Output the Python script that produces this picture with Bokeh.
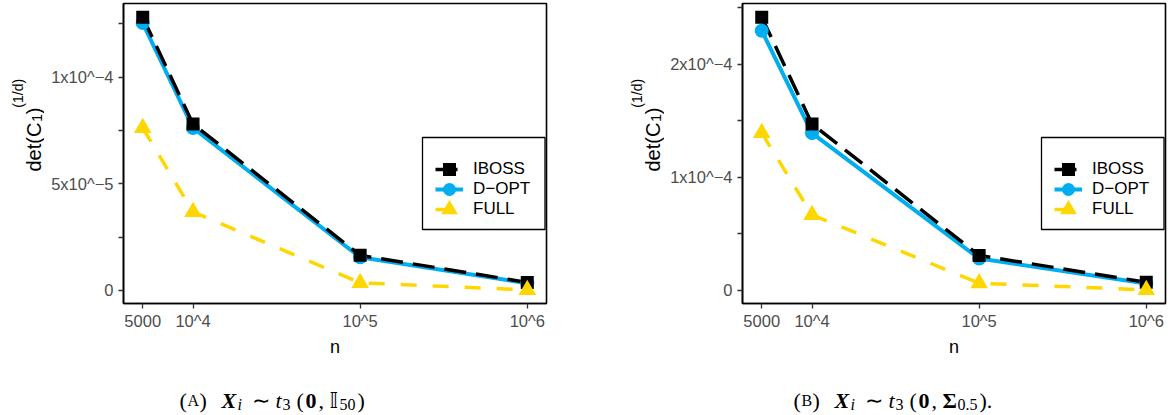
import math
from bokeh.plotting import figure
from bokeh.models import (Range1d, FixedTicker, CustomJSTickFormatter, Label, Legend,
                          LegendItem, BoxAnnotation)
from bokeh.layouts import row, column
from bokeh.embed import file_html
from bokeh.resources import INLINE

# ---------------- data ----------------
n_values = [5000, 10000, 100000, 1000000]
x_tick_labels = ["5000", "10^4", "10^5", "10^6"]
series_labels = ["IBOSS", "D\u2212OPT", "FULL"]

# panel (A)
a_iboss = [1.282e-4, 0.780e-4, 0.164e-4, 0.037e-4]
a_dopt = [1.254e-4, 0.762e-4, 0.155e-4, 0.033e-4]
a_full = [0.762e-4, 0.368e-4, 0.035e-4, 0.002e-4]
a_yticks = [0.0, 2.5e-5, 5e-5, 7.5e-5, 1e-4, 1.25e-4]
a_ytick_labels = ["0", "", "5x10^\u22125", "", "1x10^\u22124", ""]

# panel (B)
b_iboss = [2.417e-4, 1.471e-4, 0.308e-4, 0.070e-4]
b_dopt = [2.297e-4, 1.390e-4, 0.280e-4, 0.060e-4]
b_full = [1.392e-4, 0.667e-4, 0.062e-4, 0.003e-4]
b_yticks = [0.0, 5e-5, 1e-4, 1.5e-4, 2e-4, 2.5e-4]
b_ytick_labels = ["0", "", "1x10^\u22124", "", "2x10^\u22124", ""]

# ---------------- style ----------------
SANS = "Liberation Sans"
SERIF = "Liberation Serif"
COL_IBOSS = "#000000"
COL_DOPT = "#00AEEF"
COL_FULL = "#FFD700"

MAIN_H = 360
CAP_H = 55
FRAME_TOP = 3
FRAME_H = 300

# legend box, in pixels inside the plot frame (from its bottom-left corner)
LEG_LEFT, LEG_RIGHT, LEG_BOTTOM, LEG_TOP = 299, 421.5, 74, 166
# legend entries block (glyph start, bottom of the last entry)
ENTRY_LEFT, ENTRY_BOTTOM = 312, 84

FORMATTER_CODE = """
for (let i = 0; i < vals.length; i++) {
  if (Math.abs(vals[i] - tick) <= 1e-9 * Math.max(1, Math.abs(vals[i]))) { return labs[i]; }
}
return "";
"""


def text_fig(w, h):
    f = figure(width=w, height=h, x_range=Range1d(0, w), y_range=Range1d(0, h),
               x_axis_location=None, y_axis_location=None, toolbar_location=None,
               output_backend="svg", min_border=0)
    f.xgrid.grid_line_color = None
    f.ygrid.grid_line_color = None
    f.outline_line_color = None
    f.border_fill_color = "white"
    return f


def put(f, text, x, y, size, font, style="normal", align="left", angle=0.0):
    f.add_layout(Label(x=x, y=y, text=text, text_font=font,
                       text_font_size=f"{size}px", text_font_style=style,
                       text_color="black", text_align=align,
                       text_baseline="alphabetic", angle=angle))


def main_fig(iboss, dopt, full, yticks, ylabels, fig_w, b_left, b_right):
    lx0, lx1 = math.log10(min(n_values)), math.log10(max(n_values))
    xpad = 0.05 * (lx1 - lx0)
    xl0, xl1 = lx0 - xpad, lx1 + xpad
    vals = iboss + dopt + full
    lo, hi = min(vals), max(vals)
    ypad = 0.05 * (hi - lo)
    yl0, yl1 = lo - ypad, hi + ypad
    frame_w = fig_w - b_left - b_right

    p = figure(width=fig_w, height=MAIN_H, x_axis_type="log",
               x_range=Range1d(10 ** xl0, 10 ** xl1),
               y_range=Range1d(yl0, yl1),
               output_backend="svg", toolbar_location=None,
               min_border_left=b_left, min_border_right=b_right,
               min_border_top=FRAME_TOP, min_border_bottom=MAIN_H - FRAME_TOP - FRAME_H)
    p.xgrid.grid_line_color = None
    p.ygrid.grid_line_color = None
    p.outline_line_color = "black"
    p.outline_line_width = 1.6
    p.background_fill_color = "white"
    p.border_fill_color = "white"

    for ax in (p.xaxis[0], p.yaxis[0]):
        ax.axis_line_color = "black"
        ax.axis_line_width = 1.6
        ax.major_tick_in = 0
        ax.major_tick_out = 5
        ax.major_tick_line_color = "#333333"
        ax.major_tick_line_width = 1.3
        ax.minor_tick_line_color = None
        ax.major_label_text_font = SANS
        ax.major_label_text_font_size = "16.5px"
        ax.major_label_text_color = "#4D4D4D"

    p.xaxis.ticker = FixedTicker(ticks=n_values, minor_ticks=[])
    p.xaxis.formatter = CustomJSTickFormatter(args=dict(vals=n_values, labs=x_tick_labels),
                                              code=FORMATTER_CODE)
    p.xaxis.major_label_standoff = 3
    p.xaxis.axis_label = "n"
    p.xaxis.axis_label_text_font = SANS
    p.xaxis.axis_label_text_font_size = "18px"
    p.xaxis.axis_label_text_font_style = "normal"
    p.xaxis.axis_label_text_color = "black"
    p.xaxis.axis_label_standoff = 4

    p.yaxis.ticker = FixedTicker(ticks=yticks, minor_ticks=[])
    p.yaxis.formatter = CustomJSTickFormatter(args=dict(vals=yticks, labs=ylabels),
                                              code=FORMATTER_CODE)
    p.yaxis.major_label_standoff = 5

    l_d = p.line(n_values, dopt, line_color=COL_DOPT, line_width=4)
    l_i = p.line(n_values, iboss, line_color=COL_IBOSS, line_width=3.5, line_dash="22 10")
    l_f = p.line(n_values, full, line_color=COL_FULL, line_width=3.5, line_dash="16 16")
    s_d = p.scatter(n_values, dopt, marker="circle", size=9, color=COL_DOPT, line_width=5)
    s_i = p.scatter(n_values, iboss, marker="square", size=8, color=COL_IBOSS,
                    line_width=5, line_join="miter")
    s_f = p.scatter(n_values, full, marker="triangle", size=9, color=COL_FULL,
                    line_width=5, line_join="miter")

    # legend frame (white box with black border) drawn under the legend entries
    box = BoxAnnotation(left=10 ** (xl0 + LEG_LEFT / frame_w * (xl1 - xl0)),
                        right=10 ** (xl0 + LEG_RIGHT / frame_w * (xl1 - xl0)),
                        bottom=yl0 + LEG_BOTTOM / FRAME_H * (yl1 - yl0),
                        top=yl0 + LEG_TOP / FRAME_H * (yl1 - yl0),
                        fill_color="white", fill_alpha=1.0,
                        line_color="black", line_width=1.3, line_alpha=1.0)
    p.add_layout(box)

    legend = Legend(items=[LegendItem(label=series_labels[0], renderers=[l_i, s_i]),
                           LegendItem(label=series_labels[1], renderers=[l_d, s_d]),
                           LegendItem(label=series_labels[2], renderers=[l_f, s_f])],
                    location=(ENTRY_LEFT, ENTRY_BOTTOM), padding=0, spacing=0,
                    glyph_width=28, glyph_height=20, label_height=20,
                    label_standoff=10, label_width=62,
                    label_text_font=SANS, label_text_font_size="17px",
                    label_text_color="black",
                    border_line_color=None, background_fill_alpha=0.0)
    p.add_layout(legend)
    return p


def ylabel_fig(w, base_x):
    """det(C_1)^(1/d) written upwards; 'det(C' ends at the anchor."""
    f = text_fig(w, MAIN_H)
    a = MAIN_H - 143  # anchor (where 'C' ends)
    up = math.pi / 2
    put(f, "det(C", base_x, a, 20, SANS, align="right", angle=up)
    put(f, "1", base_x + 3, a + 1, 14, SANS, angle=up)
    put(f, ")", base_x, a + 10, 20, SANS, angle=up)
    put(f, "(1/d)", base_x - 16, a + 18, 14, SANS, angle=up)
    return f


def caption_fig(w, pieces, center_x, base_y=15):
    f = text_fig(w, CAP_H)
    total = sum(pc[5] for pc in pieces)
    x = center_x - total / 2
    for text, size, font, style, shift, adv in pieces:
        put(f, text, x, base_y - shift, size, font, style)
        x += adv
    return f


M, S = 22, 16
cap_a = [("(", M, SERIF, "normal", 0, 8), ("A", S, SERIF, "normal", 0, 12),
         (")", M, SERIF, "normal", 0, 22),
         ("X", M, SERIF, "bold italic", 0, 16), ("i", S, SERIF, "italic", 4, 14),
         ("\u223C", M, SERIF, "normal", 0, 24), ("t", M, SERIF, "italic", 0, 7),
         ("3", S, SERIF, "normal", 4, 14), ("(", M, SERIF, "normal", 0, 9),
         ("0", M, SERIF, "bold", 0, 13), (",", M, SERIF, "normal", 0, 11),
         ("\U0001D540", M, "DejaVu Sans", "normal", 0, 10), ("50", S, SERIF, "normal", 4, 18),
         (")", M, SERIF, "normal", 0, 8)]
cap_b = [("(", M, SERIF, "normal", 0, 8), ("B", S, SERIF, "normal", 0, 11),
         (")", M, SERIF, "normal", 0, 22),
         ("X", M, SERIF, "bold italic", 0, 16), ("i", S, SERIF, "italic", 4, 14),
         ("\u223C", M, SERIF, "normal", 0, 24), ("t", M, SERIF, "italic", 0, 7),
         ("3", S, SERIF, "normal", 4, 14), ("(", M, SERIF, "normal", 0, 9),
         ("0", M, SERIF, "bold", 0, 13), (",", M, SERIF, "normal", 0, 11),
         ("\u03A3", M, SERIF, "bold", 0, 15), ("0.5", S, SERIF, "normal", 4, 22),
         (").", M, SERIF, "normal", 0, 12)]

# left group: x 0..587, right group: x 587..1174
ylab_a = ylabel_fig(44, 33)
main_a = main_fig(a_iboss, a_dopt, a_full, a_yticks, a_ytick_labels, 543, 79, 41)
cap_fig_a = caption_fig(587, cap_a, 272)

ylab_b = ylabel_fig(77, 65)
main_b = main_fig(b_iboss, b_dopt, b_full, b_yticks, b_ytick_labels, 510, 78, 9)
cap_fig_b = caption_fig(587, cap_b, 892 - 587)

layout = row(column(row(ylab_a, main_a), cap_fig_a),
             column(row(ylab_b, main_b), cap_fig_b))

with open("out.html", "w") as f:
    f.write(file_html(layout, INLINE))
